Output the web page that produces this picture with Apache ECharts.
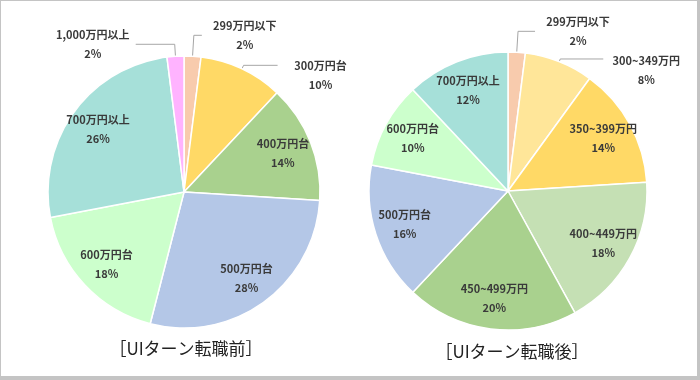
<!DOCTYPE html>
<html><head><meta charset="utf-8">
<script src="https://cdn.jsdelivr.net/npm/echarts@6/dist/echarts.min.js"></script>
<style>html,body{margin:0;padding:0;background:#fff}#c{width:700px;height:380px}</style>
</head><body><div id="c"></div>
<script>
const leftCategories = ['299万円以下','300万円台','400万円台','500万円台','600万円台','700万円以上','1,000万円以上'];
const leftValues = [2,10,14,28,18,26,2];
const leftColors = ['#F8CBAD','#FFD966','#A9D18E','#B4C7E7','#CCFFCC','#A6E0D9','#FFB3FF'];
const leftTitle = '［UIターン転職前］';

const rightCategories = ['299万円以下','300~349万円','350~399万円','400~449万円','450~499万円','500万円台','600万円台','700万円以上'];
const rightValues = [2,8,14,18,20,16,10,12];
const rightColors = ['#F8CBAD','#FFE699','#FFD966','#C5E0B4','#A9D18E','#B4C7E7','#CCFFCC','#A6E0D9'];
const rightTitle = '［UIターン転職後］';

// outside label leader settings: [length, length2, topPadding]
const leftOutside = {'299万円以下':[21,8,0],'300万円台':[4,34,20],'1,000万円以上':[12,39,0]};
const rightOutside = {'299万円以下':[21,17,0],'300~349万円':[3,43,22]};

const TXT = '#3A3A3A';
const FONT = '"Noto Sans CJK JP","Noto Sans",sans-serif';

function pct(p){ return Math.round(p.percent) + '%'; }

function build(cats, vals, colors, outside, center, R){
  const base = cats.map((n,i)=>{
    const o = outside[n];
    return {
      name:n, value:vals[i], itemStyle:{color:colors[i]},
      label: o ? {show:true, position:'outside', padding:[o[2],0,0,0]} : {show:false},
      labelLine: o ? {show:true, length:o[0], length2:o[1]} : {show:false}
    };
  });
  const overlay = cats.map((n,i)=>({name:n, value:vals[i], label:{show: !outside[n]}}));
  return [
    {
      type:'pie', center:center, radius:[0,R], startAngle:90, clockwise:true,
      avoidLabelOverlap:false, silent:true, animation:false,
      itemStyle:{borderColor:'#fff', borderWidth:1.5},
      label:{
        formatter:p=>'{a|'+p.name+'}\n{a|'+pct(p)+'}',
        rich:{a:{width:76, align:'center', lineHeight:19, fontSize:11, fontWeight:'bold', color:TXT, fontFamily:FONT}}
      },
      labelLine:{lineStyle:{color:'#A6A6A6', width:1}},
      data:base
    },
    {
      type:'pie', center:center, radius:[R*0.52,R], startAngle:90, clockwise:true,
      avoidLabelOverlap:false, silent:true, animation:false,
      itemStyle:{color:'rgba(0,0,0,0)', borderWidth:0},
      label:{position:'inside', formatter:p=>p.name+'\n'+pct(p), lineHeight:19, fontSize:11, fontWeight:'bold', color:TXT, fontFamily:FONT, align:'center'},
      labelLine:{show:false},
      data:overlay
    }
  ];
}

const chart = echarts.init(document.getElementById('c'), null, {renderer:'canvas'});
chart.setOption({
  backgroundColor:'#fff',
  animation:false,
  textStyle:{fontFamily:FONT},
  graphic:[
    {type:'rect', z:-10, shape:{x:0,y:0,width:700,height:380}, style:{fill:'#C4C4C4'}},
    {type:'rect', z:-9, shape:{x:1,y:1,width:696,height:375}, style:{fill:'#FFFFFF'}}
  ],
  title:[
    {text:leftTitle, left:181, top:335, textAlign:'center', textStyle:{fontSize:17, fontWeight:'normal', color:'#222', fontFamily:FONT}},
    {text:rightTitle, left:507, top:338, textAlign:'center', textStyle:{fontSize:17, fontWeight:'normal', color:'#222', fontFamily:FONT}}
  ],
  series:[].concat(
    build(leftCategories, leftValues, leftColors, leftOutside, [184,192], 136),
    build(rightCategories, rightValues, rightColors, rightOutside, [508,191], 139)
  )
});
</script></body></html>
